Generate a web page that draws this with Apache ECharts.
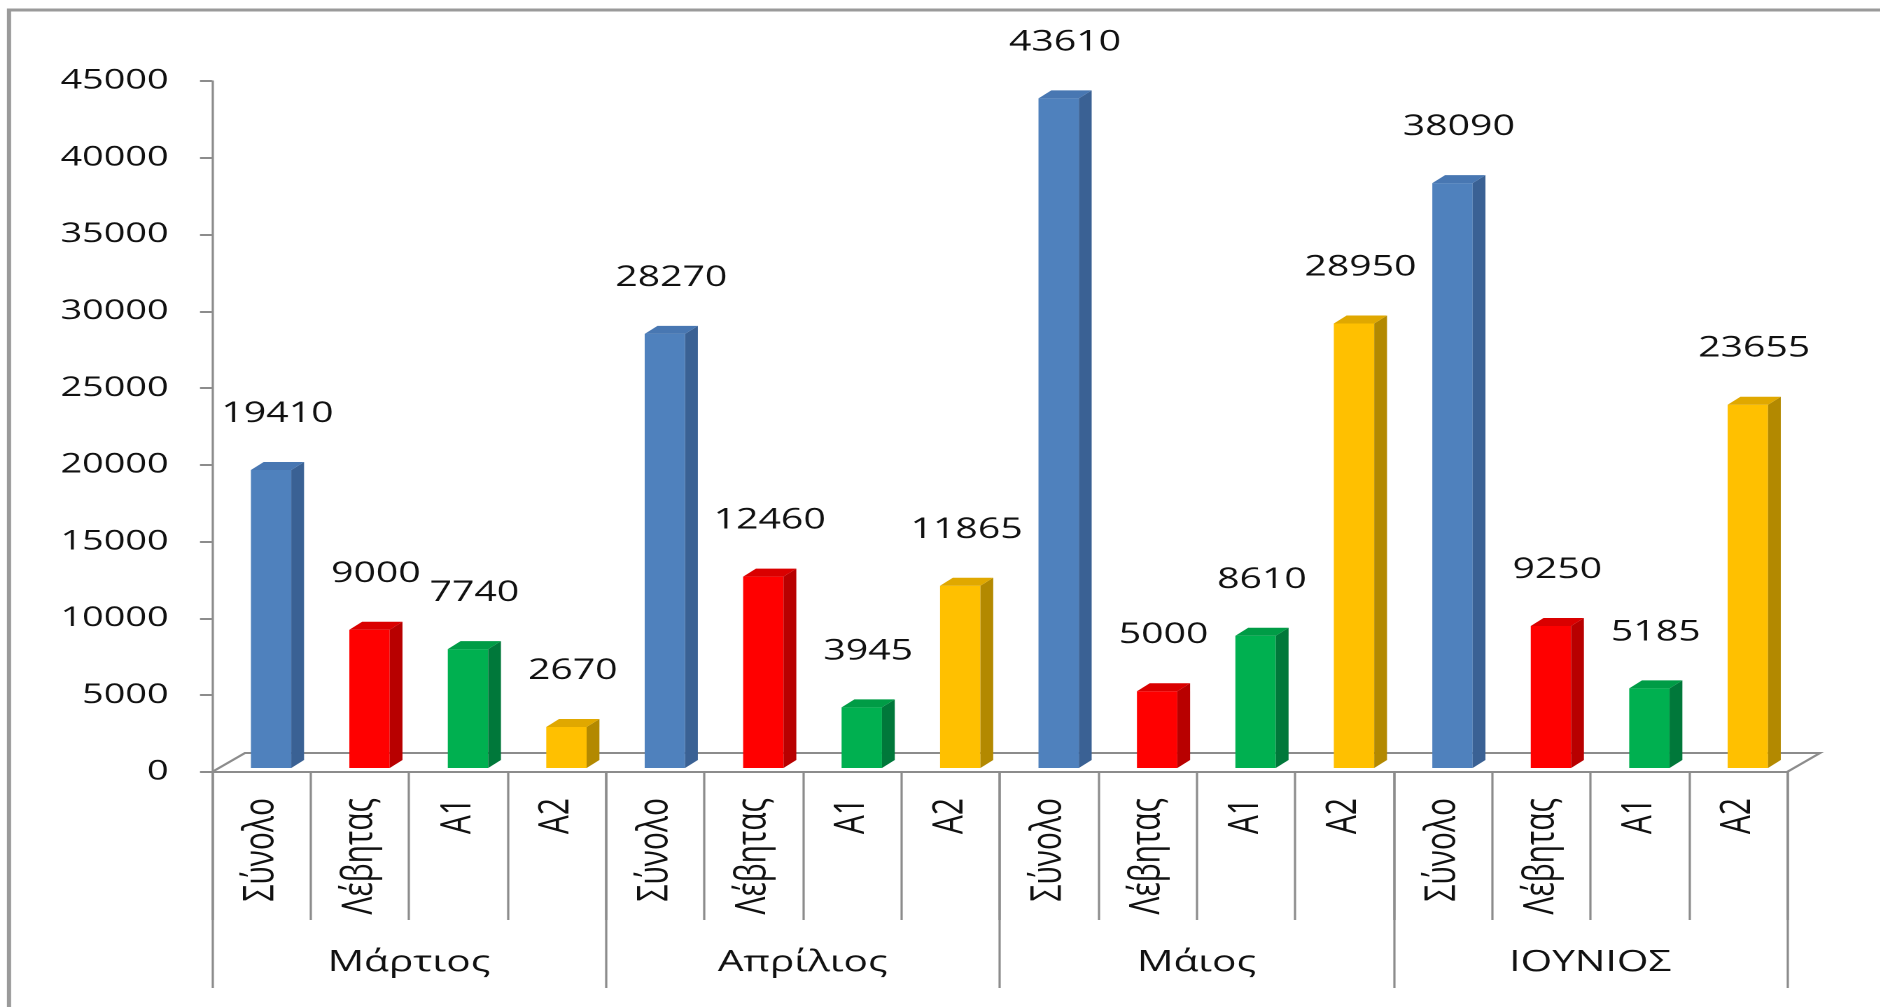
<!DOCTYPE html>
<html>
<head>
<meta charset="utf-8">
<script src="https://cdn.jsdelivr.net/npm/echarts@6/dist/echarts.min.js"></script>
<style>
html,body{margin:0;padding:0;background:#fff;overflow:hidden;}
#c{height:1007px;transform-origin:0 0;}
</style>
</head>
<body>
<div id="c"></div>
<script>
// ---- data ----
const months = ['Μάρτιος', 'Απρίλιος', 'Μάιος', 'ΙΟΥΝΙΟΣ'];
const types = ['Σύνολο', 'Λέβητας', 'A1', 'A2'];
const synolo = [19410, 28270, 43610, 38090];
const levitas = [9000, 12460, 5000, 9250];
const a1 = [7740, 3945, 8610, 5185];
const a2 = [2670, 11865, 28950, 23655];
const yTicks = [0, 5000, 10000, 15000, 20000, 25000, 30000, 35000, 40000, 45000];

// ---- layout / style ----
const S = 1.4;                 // horizontal stretch of the picture
const W = 1880 / S;
const FONT = '"Open Sans", "Liberation Sans", sans-serif';
const GRAY = '#8c8c8c';
const GRID_LEFT = 212 / S, GRID_RIGHT = 93 / S, GRID_TOP = 81, GRID_BOTTOM = 1007 - 772;
const palettes = [
  {front: '#4F81BD', side: '#3A6194', top: '#4877B2'},
  {front: '#FF0000', side: '#B80000', top: '#DA0000'},
  {front: '#00B050', side: '#00783A', top: '#009C46'},
  {front: '#FFC000', side: '#B38900', top: '#E0A800'}
];

const dom = document.getElementById('c');
dom.style.width = W + 'px';
dom.style.transform = 'scaleX(' + S + ')';
const chart = echarts.init(dom, null, {renderer: 'canvas', devicePixelRatio: 2});

const seriesValues = [synolo, levitas, a1, a2];
const catLabels = [];
months.forEach(() => types.forEach(t => catLabels.push(t)));

function makeRender(t) {
  const pal = palettes[t];
  return function (params, api) {
    const idx = api.value(0), v = api.value(1);
    const base = api.coord([idx, 0]);
    const topP = api.coord([idx, v]);
    const band = api.size([1, 0])[0];
    const bw = band * 0.41, ox = band * 0.1, oy = -4;
    const dx = band * 0.13, dy = -8;
    const x0 = base[0] - bw / 2 + ox, x1 = x0 + bw;
    const yT = topP[1] + oy, yB = base[1] + oy;
    return {
      type: 'group',
      children: [
        {type: 'rect', shape: {x: x0, y: yT, width: bw, height: yB - yT}, style: {fill: pal.front}},
        {type: 'polygon', shape: {points: [[x1, yB], [x1, yT], [x1 + dx, yT + dy], [x1 + dx, yB + dy]]}, style: {fill: pal.side}},
        {type: 'polygon', shape: {points: [[x0, yT], [x1, yT], [x1 + dx, yT + dy], [x0 + dx, yT + dy]]}, style: {fill: pal.top}},
        {type: 'text', style: {text: String(v), x: (x0 + x1 + dx) / 2, y: yT - 56, align: 'center', verticalAlign: 'middle',
          fontSize: 28, fontFamily: FONT, fill: '#111'}}
      ]
    };
  };
}

const series = types.map((name, t) => ({
  type: 'custom',
  name: name,
  xAxisIndex: 0,
  yAxisIndex: 0,
  z: 3,
  renderItem: makeRender(t),
  encode: {x: 0, y: 1},
  data: months.map((m, mi) => [mi * types.length + t, seriesValues[t][mi]])
}));

// floor of the 3D plot, derived from the grid rectangle
const fx0 = GRID_LEFT, fx1 = W - GRID_RIGHT, fy = 1007 - GRID_BOTTOM;
const ddx = 33 / S, ddy = -19;

chart.setOption({
  backgroundColor: '#ffffff',
  animation: false,
  grid: {left: GRID_LEFT, right: GRID_RIGHT, top: GRID_TOP, bottom: GRID_BOTTOM, containLabel: false},
  graphic: [
    {type: 'rect', z: 0, shape: {x: 9 / S, y: 10, width: W + 50, height: 1100},
      style: {fill: 'none', stroke: '#9a9a9a', lineWidth: 3}},
    {type: 'polygon', z: 1, shape: {points: [[fx0, fy], [fx0 + ddx, fy + ddy], [fx1 + ddx, fy + ddy], [fx1, fy]]},
      style: {fill: '#ffffff', stroke: GRAY, lineWidth: 2}}
  ],
  xAxis: [
    {
      type: 'category', data: catLabels, position: 'bottom', boundaryGap: true,
      axisLine: {show: true, lineStyle: {color: GRAY, width: 2}},
      axisTick: {show: true, interval: 0, alignWithLabel: false, length: 148, lineStyle: {color: GRAY, width: 1.6}},
      axisLabel: {interval: 0, rotate: 90, margin: 26, fontSize: 30, fontFamily: FONT, color: '#111'},
      splitLine: {show: false}
    },
    {
      type: 'category', data: months, position: 'bottom', boundaryGap: true,
      axisLine: {show: false},
      axisTick: {show: true, interval: 0, alignWithLabel: false, length: 216, lineStyle: {color: GRAY, width: 1.6}},
      axisLabel: {interval: 0, margin: 176, fontSize: 29, fontFamily: FONT, color: '#111'},
      splitLine: {show: false}
    }
  ],
  yAxis: {
    type: 'value', min: yTicks[0], max: yTicks[yTicks.length - 1], interval: yTicks[1] - yTicks[0],
    axisLine: {show: true, lineStyle: {color: GRAY, width: 1.6}},
    axisTick: {show: true, length: 12 / S, lineStyle: {color: GRAY, width: 2}},
    axisLabel: {margin: 31, fontSize: 27, fontFamily: FONT, color: '#111', formatter: v => String(v)},
    splitLine: {show: false}
  },
  series: series
});
</script>
</body>
</html>
